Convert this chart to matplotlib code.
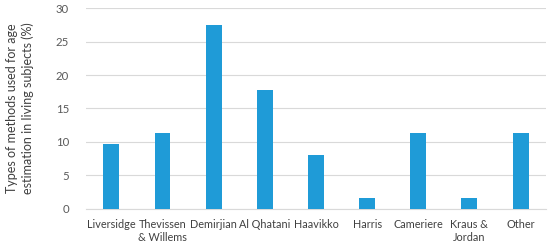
import matplotlib
matplotlib.use("Agg")
import matplotlib.pyplot as plt

methods = ["Liversidge", "Thevissen\n& Willems", "Demirjian", "Al Qhatani", "Haavikko",
           "Harris", "Cameriere", "Kraus &\nJordan", "Other"]
percent = [9.7, 11.3, 27.4, 17.7, 8.1, 1.6, 11.3, 1.6, 11.3]

plt.rcParams["font.family"] = ["Lato", "DejaVu Sans"]

fig = plt.figure(figsize=(5.5, 2.43), dpi=100)
ax = fig.add_axes([0.156, 0.14, 0.837, 0.827])

x = range(len(methods))
ax.bar(x, percent, width=0.31, color="#1F9BD7", zorder=3)

ax.set_ylim(0, 30)
ax.set_xlim(-0.5, len(methods) - 0.5)
ax.set_yticks(range(0, 31, 5))
ax.set_xticks(list(x))
ax.set_xticklabels(methods, fontsize=7.8, color="#404040", linespacing=1.25)
ax.tick_params(axis="y", labelsize=8.2, labelcolor="#595959", length=0, pad=12)
ax.tick_params(axis="x", length=0, pad=7)
ax.grid(axis="y", color="#D9D9D9", linewidth=0.8, zorder=0)
for s in ["top", "right", "left"]:
    ax.spines[s].set_visible(False)
ax.spines["bottom"].set_color("#D9D9D9")

ax.set_ylabel("Types of methods used for age\nestimation in living subjects (%)",
              fontsize=9, color="#404040", labelpad=16, linespacing=1.3)

fig.savefig("out.png", dpi=100)
